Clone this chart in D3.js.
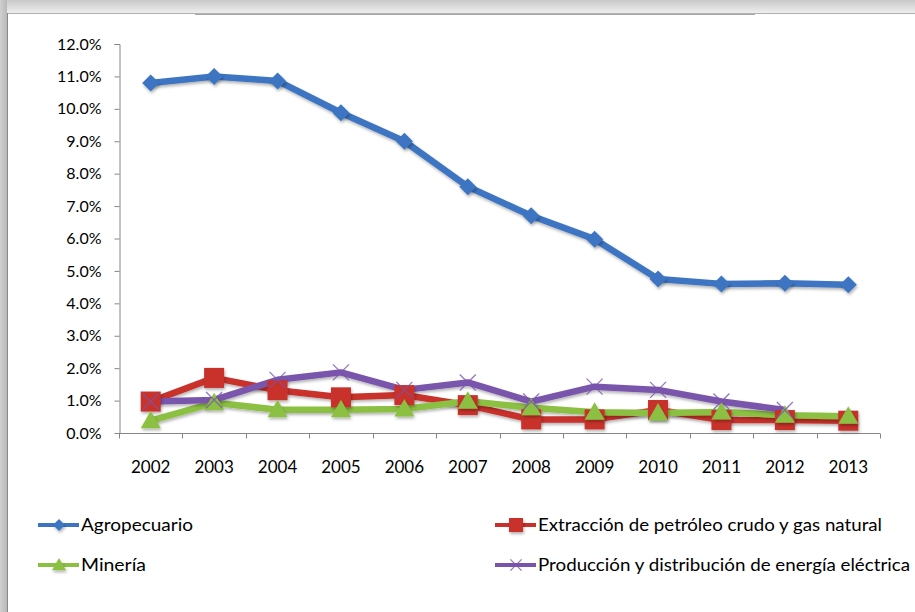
<!DOCTYPE html>
<html><head><meta charset="utf-8">
<script src="https://cdn.jsdelivr.net/npm/d3@7"></script>
<style>body{margin:0;background:#fff}svg{display:block}</style>
</head><body>
<svg id="c" width="915" height="612"></svg>
<script>
const years = ["2002","2003","2004","2005","2006","2007","2008","2009","2010","2011","2012","2013"];
const agropecuario = [10.8, 11.0, 10.86, 9.88, 9.0, 7.6, 6.7, 5.98, 4.75, 4.6, 4.62, 4.57];
const extraccion = [0.97, 1.7, 1.32, 1.1, 1.17, 0.86, 0.42, 0.42, 0.71, 0.4, 0.4, 0.38];
const mineria = [0.38, 0.93, 0.72, 0.72, 0.74, 0.98, 0.78, 0.64, 0.62, 0.65, 0.55, 0.52];
const produccion = [0.97, 1.02, 1.64, 1.87, 1.33, 1.56, 0.97, 1.43, 1.33, 0.97, 0.71, null];
const yTicks = [0,1,2,3,4,5,6,7,8,9,10,11,12];
const seriesNames = ["Agropecuario","Extracción de petróleo crudo y gas natural","Minería","Producción y distribución de energía eléctrica"];

const series = [
  {name: seriesNames[0], values: agropecuario, color:"#3c74c2", marker:"diamond"},
  {name: seriesNames[1], values: extraccion, color:"#c8302c", marker:"square"},
  {name: seriesNames[2], values: mineria, color:"#8cc043", marker:"triangle"},
  {name: seriesNames[3], values: produccion, color:"#7a54ac", marker:"x"}
];

const svg = d3.select("#c");
const defs = svg.append("defs");
const gTop = defs.append("linearGradient").attr("id","gt").attr("x1",0).attr("y1",0).attr("x2",0).attr("y2",1);
gTop.append("stop").attr("offset","0").attr("stop-color","#c8c8c8");
gTop.append("stop").attr("offset","1").attr("stop-color","#eeeeee");
const gLeft = defs.append("linearGradient").attr("id","gl").attr("x1",0).attr("y1",0).attr("x2",1).attr("y2",0);
gLeft.append("stop").attr("offset","0").attr("stop-color","#d0d0d0");
gLeft.append("stop").attr("offset","1").attr("stop-color","#b8b8b8");
const sh = defs.append("filter").attr("id","sh").attr("x","-50%").attr("y","-50%").attr("width","200%").attr("height","200%");
sh.append("feDropShadow").attr("dx",1).attr("dy",2).attr("stdDeviation",1.5).attr("flood-color","#000").attr("flood-opacity",0.3);

// frame background
svg.append("rect").attr("x",0).attr("y",0).attr("width",915).attr("height",13).attr("fill","url(#gt)");
svg.append("rect").attr("x",0).attr("y",0).attr("width",7).attr("height",612).attr("fill","url(#gl)");
svg.append("line").attr("x1",7).attr("x2",915).attr("y1",13.5).attr("y2",13.5).attr("stroke","#b0b0b0");
svg.append("line").attr("x1",195).attr("x2",755).attr("y1",14.5).attr("y2",14.5).attr("stroke","#a8a8a8");
svg.append("line").attr("x1",7.5).attr("x2",7.5).attr("y1",13).attr("y2",612).attr("stroke","#888");

const x0 = 119, x1 = 880;
const y = d3.scaleLinear().domain([0,12]).range([433,44]);
const xb = d3.scaleBand().domain(years).range([x0,x1]);
const xc = d => xb(d) + xb.bandwidth()/2;

const font = "Lato, 'Open Sans', sans-serif";

// y axis
const yAxis = svg.append("g").attr("transform",`translate(${x0+0.5},0)`)
  .call(d3.axisLeft(y).tickValues(yTicks).tickSize(5).tickPadding(13).tickFormat(d => d.toFixed(1)+"%"));
yAxis.select(".domain").attr("stroke","#868686").attr("d",`M-5,${y(12)+0.5}H0.5V${y(0)}`);
yAxis.selectAll(".tick line").attr("stroke","#868686");
yAxis.selectAll("text").attr("font-family",font).attr("font-size",16).attr("fill","#000");

// x axis
const xAxisG = svg.append("g").attr("transform",`translate(0,${y(0)+0.5})`);
xAxisG.append("line").attr("x1",x0).attr("x2",x1).attr("stroke","#868686");
const boundaries = years.map(d => xb(d)).concat([x1]);
xAxisG.selectAll(".tk").data(boundaries).join("line")
  .attr("x1",d=>Math.round(d)+0.5).attr("x2",d=>Math.round(d)+0.5).attr("y1",0).attr("y2",5).attr("stroke","#868686");
xAxisG.selectAll(".lb").data(years).join("text")
  .attr("x",d=>xc(d)).attr("y",39).attr("text-anchor","middle")
  .attr("font-family",font).attr("font-size",17).attr("fill","#000").text(d=>d);

// lines
const line = d3.line().defined(d => d.v != null).x(d => xc(d.yr)).y(d => y(d.v));
const plot = svg.append("g");
series.forEach(s => {
  const pts = years.map((yr,i) => ({yr, v: s.values[i]}));
  plot.append("path").datum(pts).attr("d",line).attr("fill","none")
    .attr("stroke",s.color).attr("stroke-width",6.5).attr("stroke-linejoin","round").attr("filter","url(#sh)");
});

function marker(g, type, color, cx, cy, scale) {
  const k = scale || 1;
  if (type === "diamond") {
    const r = 8.5*k;
    g.append("path").attr("d",`M${cx},${cy-r}L${cx+r},${cy}L${cx},${cy+r}L${cx-r},${cy}Z`).attr("fill",color).attr("filter","url(#sh)");
  } else if (type === "square") {
    const r = 10*k;
    g.append("rect").attr("x",cx-r).attr("y",cy-r).attr("width",2*r).attr("height",2*r).attr("fill",color).attr("filter","url(#sh)");
  } else if (type === "triangle") {
    const r = 10*k;
    g.append("path").attr("d",`M${cx},${cy-r}L${cx+r},${cy+r*0.75}L${cx-r},${cy+r*0.75}Z`).attr("fill",color).attr("filter","url(#sh)");
  } else {
    const r = 8*k;
    g.append("path").attr("d",`M${cx-r},${cy-r}L${cx+r},${cy+r}M${cx-r},${cy+r}L${cx+r},${cy-r}`)
      .attr("stroke",color).attr("stroke-width",1.3).attr("fill","none").attr("opacity",0.8);
  }
}
series.forEach(s => {
  const g = plot.append("g");
  years.forEach((yr,i) => { if (s.values[i] != null) marker(g, s.marker, s.color, xc(yr), y(s.values[i])); });
});

// legend
const legendPos = [
  {x:38, y:525, tx:81, tw:112},
  {x:495, y:525, tx:538, tw:344},
  {x:38, y:565, tx:81, tw:65},
  {x:495, y:565, tx:538, tw:372}
];
series.forEach((s,i) => {
  const p = legendPos[i];
  const g = svg.append("g");
  g.append("line").attr("x1",p.x).attr("x2",p.x+41).attr("y1",p.y).attr("y2",p.y).attr("stroke",s.color).attr("stroke-width",4);
  marker(g, s.marker, s.color, p.x+21, p.y, 0.7);
  g.append("text").attr("x",p.tx).attr("y",p.y+6).attr("font-family",font).attr("font-size",17.5)
    .attr("textLength",p.tw).attr("lengthAdjust","spacingAndGlyphs").attr("fill","#000").text(s.name);
});
</script>
</body></html>
